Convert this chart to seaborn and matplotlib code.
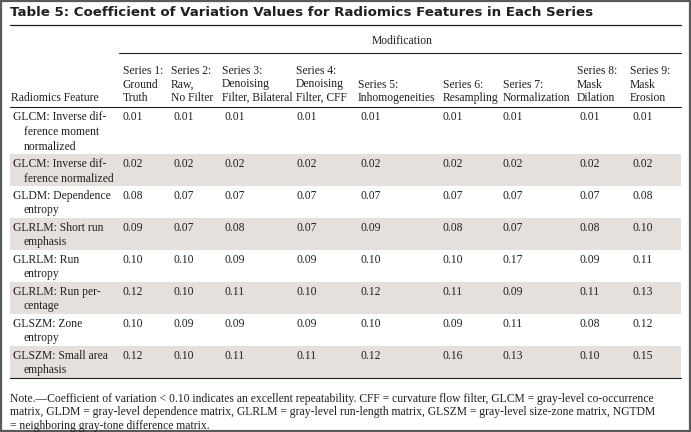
import matplotlib.pyplot as plt
import seaborn as sns
from matplotlib.patches import Rectangle

# table content
title = "Table 5: Coefficient of Variation Values for Radiomics Features in Each Series"
features = [
    ["GLCM: Inverse dif-", "ference moment", "normalized"],
    ["GLCM: Inverse dif-", "ference normalized"],
    ["GLDM: Dependence", "entropy"],
    ["GLRLM: Short run", "emphasis"],
    ["GLRLM: Run", "entropy"],
    ["GLRLM: Run per-", "centage"],
    ["GLSZM: Zone", "entropy"],
    ["GLSZM: Small area", "emphasis"],
]
series_headers = [
    ["Series 1:", "Ground", "Truth"],
    ["Series 2:", "Raw,", "No Filter"],
    ["Series 3:", "Denoising", "Filter, Bilateral"],
    ["Series 4:", "Denoising", "Filter, CFF"],
    ["Series 5:", "Inhomogeneities"],
    ["Series 6:", "Resampling"],
    ["Series 7:", "Normalization"],
    ["Series 8:", "Mask", "Dilation"],
    ["Series 9:", "Mask", "Erosion"],
]
series_1 = [0.01, 0.02, 0.08, 0.09, 0.10, 0.12, 0.10, 0.12]
series_2 = [0.01, 0.02, 0.07, 0.07, 0.10, 0.10, 0.09, 0.10]
series_3 = [0.01, 0.02, 0.07, 0.08, 0.09, 0.11, 0.09, 0.11]
series_4 = [0.01, 0.02, 0.07, 0.07, 0.09, 0.10, 0.09, 0.11]
series_5 = [0.01, 0.02, 0.07, 0.09, 0.10, 0.12, 0.10, 0.12]
series_6 = [0.01, 0.02, 0.07, 0.08, 0.10, 0.11, 0.09, 0.16]
series_7 = [0.01, 0.02, 0.07, 0.07, 0.17, 0.09, 0.11, 0.13]
series_8 = [0.01, 0.02, 0.07, 0.08, 0.09, 0.11, 0.08, 0.10]
series_9 = [0.01, 0.02, 0.08, 0.10, 0.11, 0.13, 0.12, 0.15]
note_lines = [
    "Note.\u2014Coefficient of variation < 0.10 indicates an excellent repeatability. CFF = curvature flow filter, GLCM = gray-level co-occurrence",
    "matrix, GLDM = gray-level dependence matrix, GLRLM = gray-level run-length matrix, GLSZM = gray-level size-zone matrix, NGTDM",
    "= neighboring gray-tone difference matrix.",
]

columns = [series_1, series_2, series_3, series_4, series_5,
           series_6, series_7, series_8, series_9]

sns.set_theme(style="white")
plt.rcParams['font.family'] = ['Liberation Serif', 'DejaVu Serif']

ink = '#231f20'
shade = '#e6e0dd'
fs = 8.4

fig = plt.figure(figsize=(6.91, 4.32), dpi=100)
ax = fig.add_axes([0, 0, 1, 1])
ax.set_xlim(0, 691)
ax.set_ylim(432, 0)
ax.axis('off')

# outer frame
ax.add_patch(Rectangle((0.8, 0.8), 689.4, 430.4, fill=False, ec='#5a5a5a', lw=1.6))

left, right = 10, 681
ax.text(left, 13, title, family='DejaVu Sans', weight='bold', fontsize=9.6,
        color=ink, va='center', ha='left')
ax.plot([left, right], [25, 25], color=ink, lw=0.9)

col_x = [123, 171, 222, 296, 358, 443, 503, 577, 630]
val_dx = [0, 3, 3, 1, 3, 0, 0, 3, 3]

ax.text((col_x[0] + right) / 2, 41, "Modification", fontsize=fs, color=ink,
        va='center', ha='center')
ax.plot([col_x[0] - 4, right], [53, 53], color=ink, lw=0.8)

lh_head = 13.5
head_bottom = 98
for x, lines in zip(col_x, series_headers):
    n = len(lines)
    for i, line in enumerate(lines):
        ax.text(x, head_bottom - (n - 1 - i) * lh_head, line, fontsize=fs,
                color=ink, va='center', ha='left')
ax.text(left + 1, head_bottom, "Radiomics Feature", fontsize=fs, color=ink,
        va='center', ha='left')
ax.plot([left, right], [107, 107], color=ink, lw=0.8)

# body rows
lh = 14.5
y = 107.5
for r, lines in enumerate(features):
    h = 3 + lh * len(lines)
    if r % 2 == 1:
        ax.add_patch(Rectangle((left, y), right - left, h, color=shade, lw=0))
    for i, line in enumerate(lines):
        ax.text(left + 3 if i == 0 else left + 14, y + 10 + i * lh, line,
                fontsize=fs, color=ink, va='center', ha='left')
    for c, vals in enumerate(columns):
        ax.text(col_x[c] + val_dx[c], y + 10, f"{vals[r]:.2f}", fontsize=fs,
                color=ink, va='center', ha='left')
    y += h

ax.plot([left, right], [y, y], color=ink, lw=0.8)

for i, line in enumerate(note_lines):
    ax.text(left, y + 21 + i * 13.5, line, fontsize=fs, color=ink,
            va='center', ha='left')

fig.savefig('out.png', dpi=100)
